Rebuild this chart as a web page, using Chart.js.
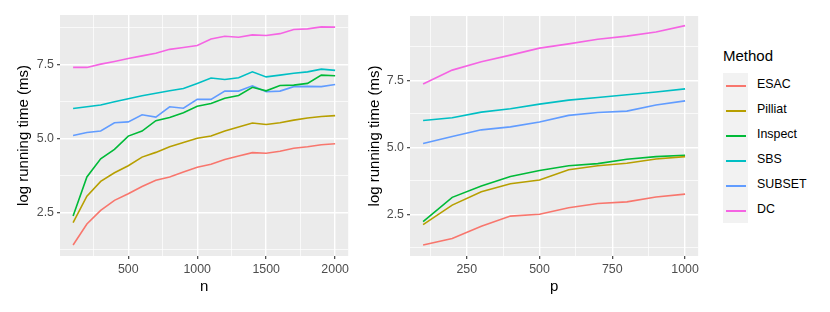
<!DOCTYPE html>
<html>
<head>
<meta charset="utf-8">
<script src="https://cdn.jsdelivr.net/npm/chart.js@4"></script>
<style>
  body { margin: 0; background: #fff; font-family: "Liberation Sans", Arial, sans-serif; }
  #wrap { position: relative; width: 830px; height: 312px; }
  .panel { position: absolute; top: 0; height: 312px; }
  #legend { position: absolute; left: 723px; top: 0; }
  #legend .ttl { position: absolute; left: 0; top: 47px; font-size: 15px; color: #000; white-space: nowrap; }
  #legend .keys { position: absolute; left: 0; top: 73px; width: 25px; height: 150px; background: #F2F2F2; }
  #legend .item { position: absolute; left: 0; height: 25px; width: 110px; }
  #legend .item span.ln { position: absolute; left: 3px; top: 12px; width: 20px; height: 1.6px; }
  #legend .item span.tx { position: absolute; left: 34px; top: 4px; font-size: 12.4px; color: #000; }
</style>
</head>
<body>
<div id="wrap">
  <div class="panel" style="left:0; width:352px;"><canvas id="chartN"></canvas></div>
  <div class="panel" style="left:352px; width:350px;"><canvas id="chartP"></canvas></div>
  <div id="legend"></div>
</div>
<script>
// methods and colours
const methods = ['ESAC', 'Pilliat', 'Inspect', 'SBS', 'SUBSET', 'DC'];
const colors = ['#F8766D', '#B79F00', '#00BA38', '#00BFC4', '#619CFF', '#F564E3'];

// left panel: running time against n
const nValues = [100, 200, 300, 400, 500, 600, 700, 800, 900, 1000, 1100, 1200, 1300, 1400, 1500, 1600, 1700, 1800, 1900, 2000];
const esacN    = [1.40, 2.11, 2.57, 2.91, 3.13, 3.38, 3.59, 3.70, 3.87, 4.03, 4.13, 4.29, 4.41, 4.52, 4.50, 4.57, 4.67, 4.72, 4.79, 4.82];
const pilliatN = [2.16, 3.05, 3.55, 3.84, 4.08, 4.37, 4.53, 4.72, 4.86, 5.01, 5.08, 5.25, 5.39, 5.52, 5.47, 5.53, 5.62, 5.69, 5.74, 5.77];
const inspectN = [2.38, 3.70, 4.31, 4.63, 5.08, 5.25, 5.60, 5.71, 5.87, 6.09, 6.18, 6.36, 6.45, 6.73, 6.61, 6.79, 6.80, 6.86, 7.14, 7.12];
const sbsN     = [6.01, 6.07, 6.13, 6.24, 6.34, 6.44, 6.53, 6.61, 6.69, 6.86, 7.04, 6.99, 7.05, 7.25, 7.08, 7.14, 7.20, 7.25, 7.34, 7.30];
const subsetN  = [5.10, 5.20, 5.25, 5.53, 5.56, 5.80, 5.72, 6.07, 6.02, 6.32, 6.32, 6.60, 6.60, 6.78, 6.58, 6.60, 6.75, 6.76, 6.75, 6.82];
const dcN      = [7.40, 7.40, 7.51, 7.60, 7.70, 7.79, 7.88, 8.01, 8.07, 8.14, 8.36, 8.45, 8.42, 8.50, 8.48, 8.54, 8.68, 8.70, 8.77, 8.76];

// right panel: running time against p
const pValues = [100, 200, 300, 400, 500, 600, 700, 800, 900, 1000];
const esacP    = [1.35, 1.59, 2.05, 2.43, 2.50, 2.74, 2.90, 2.96, 3.14, 3.25];
const pilliatP = [2.11, 2.84, 3.34, 3.64, 3.78, 4.16, 4.31, 4.40, 4.56, 4.65];
const inspectP = [2.22, 3.13, 3.55, 3.91, 4.13, 4.31, 4.39, 4.55, 4.65, 4.70];
const sbsP     = [6.00, 6.10, 6.31, 6.44, 6.61, 6.76, 6.86, 6.96, 7.06, 7.18];
const subsetP  = [5.14, 5.40, 5.65, 5.76, 5.94, 6.19, 6.30, 6.35, 6.58, 6.73];
const dcP      = [7.36, 7.88, 8.19, 8.44, 8.70, 8.86, 9.03, 9.15, 9.30, 9.54];

// ticks (major get a label, the rest are minor grid lines)
const yTicks = [1.25, 2.5, 3.75, 5, 6.25, 7.5, 8.75];
const yMajor = [2.5, 5, 7.5];
const nTicks = [250, 500, 750, 1000, 1250, 1500, 1750, 2000];
const nMajor = [500, 1000, 1500, 2000];
const pTicks = [125, 250, 375, 500, 625, 750, 875, 1000];
const pMajor = [250, 500, 750, 1000];

const panelBg = {
    id: 'panelBg',
    beforeDraw(chart) {
        const a = chart.chartArea;
        const ctx = chart.ctx;
        ctx.save();
        ctx.fillStyle = '#EBEBEB';
        ctx.fillRect(a.left, a.top, a.right - a.left, a.bottom - a.top);
        ctx.restore();
    }
};

function axis(opts) {
    const isMajor = v => opts.major.includes(v);
    return {
        type: 'linear',
        position: opts.position,
        min: opts.min,
        max: opts.max,
        afterBuildTicks: s => { s.ticks = opts.ticks.map(v => ({ value: v })); },
        afterFit: s => {
            if (opts.position === 'left') s.width = opts.size; else s.height = opts.size;
        },
        border: { display: false },
        grid: {
            color: '#FFFFFF',
            lineWidth: ctx => isMajor(ctx.tick.value) ? 1.4 : 0.7,
            tickColor: ctx => isMajor(ctx.tick.value) ? '#333333' : 'rgba(0,0,0,0)',
            tickLength: 3,
            tickWidth: 1.1
        },
        ticks: {
            autoSkip: false,
            maxRotation: 0,
            padding: 3,
            color: '#4D4D4D',
            font: { family: 'Liberation Sans', size: 12.4 },
            callback: v => isMajor(v) ? opts.fmt(v) : ''
        },
        title: {
            display: true,
            text: opts.title,
            color: '#000000',
            font: { family: 'Liberation Sans', size: 15 },
            padding: opts.titlePad
        }
    };
}

function makeChart(id, xs, series, cfg) {
    const datasets = series.map((ys, i) => ({
        label: methods[i],
        data: xs.map((x, j) => ({ x: x, y: ys[j] })),
        borderColor: colors[i],
        backgroundColor: colors[i],
        borderWidth: 1.6,
        pointRadius: 0,
        tension: 0,
        fill: false
    }));
    new Chart(document.getElementById(id), {
        type: 'line',
        data: { datasets: datasets },
        plugins: [panelBg],
        options: {
            responsive: true,
            maintainAspectRatio: false,
            animation: false,
            layout: { padding: { top: cfg.top, right: cfg.right, left: 0, bottom: 0 } },
            plugins: { legend: { display: false }, tooltip: { enabled: false } },
            scales: {
                x: axis({ position: 'bottom', min: cfg.xMin, max: cfg.xMax, ticks: cfg.xTicks, major: cfg.xMajor,
                          size: 56, title: cfg.xTitle, titlePad: { top: 0, bottom: 16 }, fmt: v => String(v) }),
                y: axis({ position: 'left', min: cfg.yMin, max: cfg.yMax, ticks: yTicks, major: yMajor,
                          size: cfg.ySize, title: 'log running time (ms)', titlePad: { top: cfg.yTitlePad, bottom: 0 },
                          fmt: v => v.toFixed(1) })
            }
        }
    });
}

makeChart('chartN', nValues, [esacN, pilliatN, inspectN, sbsN, subsetN, dcN], {
    top: 15, right: 2, xMin: 5, xMax: 2095, yMin: 1.03, yMax: 9.17,
    xTicks: nTicks, xMajor: nMajor, xTitle: 'n', ySize: 60, yTitlePad: 15
});
makeChart('chartP', pValues, [esacP, pilliatP, inspectP, sbsP, subsetP, dcP], {
    top: 16, right: 3, xMin: 55, xMax: 1045, yMin: 0.94, yMax: 9.9,
    xTicks: pTicks, xMajor: pMajor, xTitle: 'p', ySize: 58, yTitlePad: 14
});

// legend
const legend = document.getElementById('legend');
let html = '<div class="ttl">Method</div><div class="keys"></div>';
methods.forEach((m, i) => {
    html += `<div class="item" style="top:${73 + i * 25}px;"><span class="ln" style="background:${colors[i]};"></span><span class="tx">${m}</span></div>`;
});
legend.innerHTML = html;
</script>
</body>
</html>
